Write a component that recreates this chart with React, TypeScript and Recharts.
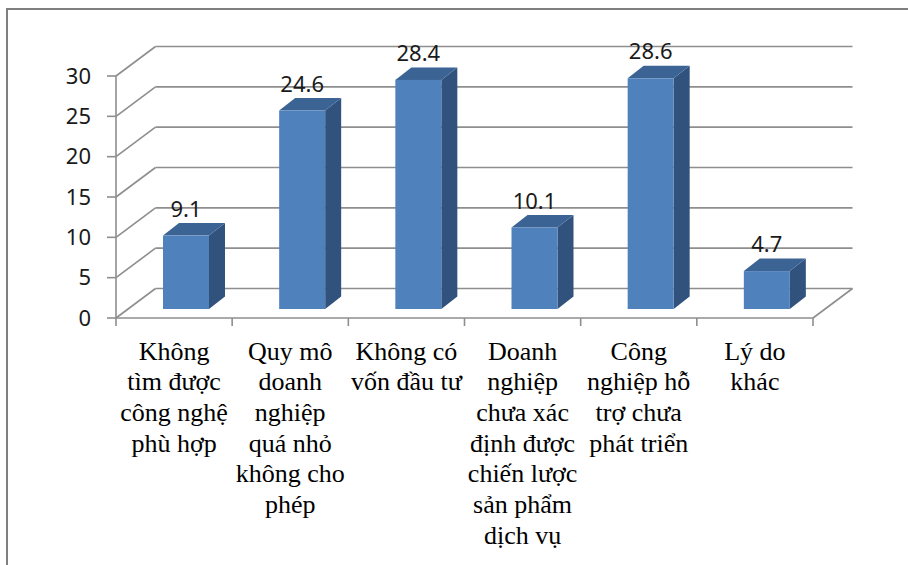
import { BarChart, Bar, XAxis, YAxis, CartesianGrid, LabelList } from "recharts";

const categories = [
  "Không\ntìm được\ncông nghệ\nphù hợp",
  "Quy mô\ndoanh\nnghiệp\nquá nhỏ\nkhông cho\nphép",
  "Không có\nvốn đầu tư",
  "Doanh\nnghiệp\nchưa xác\nđịnh được\nchiến lược\nsản phẩm\ndịch vụ",
  "Công\nnghiệp hỗ\ntrợ chưa\nphát triển",
  "Lý do\nkhác",
];
const percents = [9.1, 24.6, 28.4, 10.1, 28.6, 4.7];
const yTicks = [0, 5, 10, 15, 20, 25, 30];

const data = categories.map((name, i) => ({ name, value: percents[i] }));

// 3D look: offsets of the back wall and of the bar planes from the front plane
const WALL_DX = 39.5;
const WALL_DY = -29.5;
const BAR_DX = 12;
const BAR_DY = -9;
const DEPTH_DX = 16;
const DEPTH_DY = -12.5;

const GRID = "#8e8e8e";
const FRONT = "#4f81bd";
const SIDE = "#30527d";
const TOP = "#3b6394";

const SANS = "Noto Sans";

const gridLine = (props: any) => {
  const { x1, x2, y1, key } = props;
  const bottom = typeof props.y === "number" && Math.abs(props.y + props.height - y1) < 0.5;
  const n = categories.length;
  return (
    <g key={key}>
      <line x1={x1} y1={y1} x2={x1 + WALL_DX} y2={y1 + WALL_DY} stroke={GRID} strokeWidth={1.6} />
      <line x1={x1 + WALL_DX} y1={y1 + WALL_DY} x2={x2 + WALL_DX} y2={y1 + WALL_DY} stroke={GRID} strokeWidth={1.6} />
      {bottom && (
        <>
          <line x1={x2} y1={y1} x2={x2 + WALL_DX} y2={y1 + WALL_DY} stroke={GRID} strokeWidth={1.6} />
          {Array.from({ length: n + 1 }, (_, i) => {
            const tx = x1 + ((x2 - x1) * i) / n;
            return <line key={i} x1={tx} y1={y1} x2={tx} y2={y1 + 8} stroke={GRID} strokeWidth={1.6} />;
          })}
        </>
      )}
    </g>
  );
};

const Box = (props: any) => {
  const { x, y, width, height } = props;
  const fx = x + BAR_DX;
  const fy = y + BAR_DY;
  const side = `${fx + width},${fy} ${fx + width + DEPTH_DX},${fy + DEPTH_DY} ${fx + width + DEPTH_DX},${fy + height + DEPTH_DY} ${fx + width},${fy + height}`;
  const top = `${fx},${fy} ${fx + DEPTH_DX},${fy + DEPTH_DY} ${fx + width + DEPTH_DX},${fy + DEPTH_DY} ${fx + width},${fy}`;
  return (
    <g>
      <polygon points={side} fill={SIDE} />
      <polygon points={top} fill={TOP} />
      <rect x={fx} y={fy} width={width} height={height} fill={FRONT} />
    </g>
  );
};

const ValueLabel = (props: any) => {
  const { x, y, width, value } = props;
  return (
    <text
      x={x + width / 2 + BAR_DX}
      y={y + BAR_DY - 19}
      textAnchor="middle"
      fontFamily={SANS}
      fontSize={22}
      fill="#1a1a1a"
    >
      {value}
    </text>
  );
};

// multi-line category names under the floor
const renderCategoryTick = (props: any) => {
  const { x, y, payload, index } = props;
  const lines = String(payload.value).split("\n");
  return (
    <g key={`cat-${index}`}>
      {lines.map((line, i) => (
        <text
          key={i}
          x={x}
          y={y + 41.5 + i * 30.7}
          textAnchor="middle"
          fontFamily="Liberation Serif"
          fontSize={26}
          fill="#000"
        >
          {line}
        </text>
      ))}
    </g>
  );
};

export default function App() {
  return (
    <div style={{ position: "absolute", left: 0, top: 0, width: 908, height: 565, background: "#fff" }}>
      <div
        style={{
          position: "absolute",
          left: 6,
          top: 8,
          right: -2,
          bottom: -2,
          borderTop: "2px solid #7f7f7f",
          borderLeft: "2px solid #7f7f7f",
        }}
      />
      <BarChart
        width={908}
        height={565}
        data={data}
        margin={{ top: 76, right: 95, left: 56, bottom: 17 }}
        style={{ position: "absolute", left: 0, top: 0 }}
      >
        <CartesianGrid vertical={false} horizontal={gridLine} />
        <XAxis
          dataKey="name"
          interval={0}
          height={230}
          tickLine={false}
          tickSize={0}
          tickMargin={0}
          axisLine={{ stroke: GRID, strokeWidth: 1.6 }}
          tick={renderCategoryTick}
        />
        <YAxis
          width={60}
          domain={[0, 30]}
          ticks={yTicks}
          interval={0}
          tickSize={9}
          tickMargin={16}
          axisLine={{ stroke: GRID, strokeWidth: 1.6 }}
          tickLine={{ stroke: GRID, strokeWidth: 1.6 }}
          tick={{ fontFamily: SANS, fontSize: 22, fill: "#1a1a1a" }}
        />
        <Bar dataKey="value" barSize={46} shape={<Box />} isAnimationActive={false}>
          <LabelList dataKey="value" content={<ValueLabel />} />
        </Bar>
      </BarChart>
    </div>
  );
}
